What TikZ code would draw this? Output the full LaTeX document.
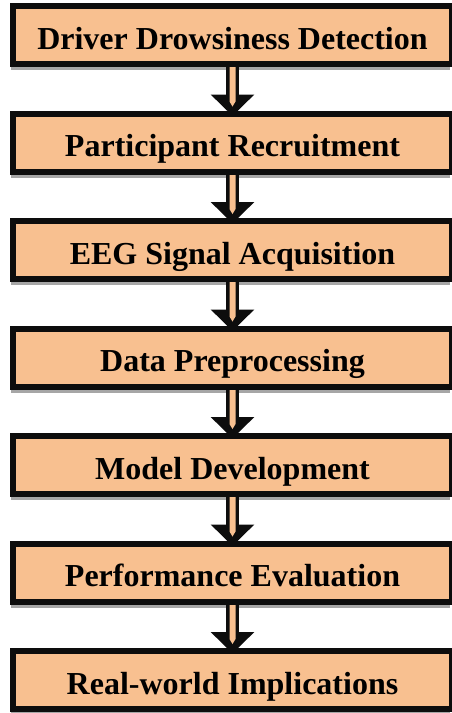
\documentclass[tikz,border=0pt]{standalone}
\usepackage{fontspec}
\setmainfont{Liberation Serif}
\usetikzlibrary{positioning}
\usetikzlibrary{shadows}

\definecolor{boxfill}{RGB}{248,192,144}

\tikzset{
    stage/.style={draw=black!95, line width=6pt, fill=boxfill, outer sep=0pt,
        minimum width=439pt, minimum height=58pt, inner sep=0pt,
        text height=34pt, text depth=6pt,
        font=\fontsize{32}{36}\selectfont\bfseries,
        drop shadow={shadow xshift=-2pt, shadow yshift=-6pt, fill=black!35, opacity=1}},
    blockarrow/.style={draw=black!95, fill=black!95, line width=3.4pt, line join=miter},
    arrowcore/.style={fill=boxfill}
}

\begin{document}
\begin{tikzpicture}[node distance=49.5pt]
    % page frame
    \useasboundingbox (0,0) rectangle (451pt,-713pt);

    % the stages
    \node[stage] (detect) at (232.5pt,-35pt) {Driver Drowsiness Detection};
    \node[stage, below=of detect] (recruit) {Participant Recruitment};
    \node[stage, below=of recruit] (eeg) {EEG Signal Acquisition};
    \node[stage, below=of eeg] (prep) {Data Preprocessing};
    \node[stage, below=of prep] (model) {Model Development};
    \node[stage, below=of model] (eval) {Performance Evaluation};
    \node[stage, below=of eval] (real) {Real-world Implications};

    % the block arrows between them
    \foreach \a/\b in {detect/recruit, recruit/eeg, eeg/prep, prep/model, model/eval, eval/real} {
        \draw[blockarrow] ([xshift=-4.6pt]\a.south) -- ([xshift=-4.6pt,yshift=17.3pt]\b.north)
            -- ([xshift=-17.7pt,yshift=17.3pt]\b.north) -- (\b.north)
            -- ([xshift=17.7pt,yshift=17.3pt]\b.north) -- ([xshift=4.6pt,yshift=17.3pt]\b.north)
            -- ([xshift=4.6pt]\a.south) -- cycle;
        \fill[arrowcore] ([xshift=-3pt]\a.south) -- ([xshift=-3pt,yshift=12pt]\b.north)
            -- ([yshift=7pt]\b.north) -- ([xshift=3pt,yshift=12pt]\b.north)
            -- ([xshift=3pt]\a.south) -- cycle;
    }

    % redraw the stage borders over the arrow ends
    \foreach \n in {detect, recruit, eeg, prep, model, eval, real}
        \draw[line width=6pt, black!95] (\n.south west) rectangle (\n.north east);
\end{tikzpicture}
\end{document}
